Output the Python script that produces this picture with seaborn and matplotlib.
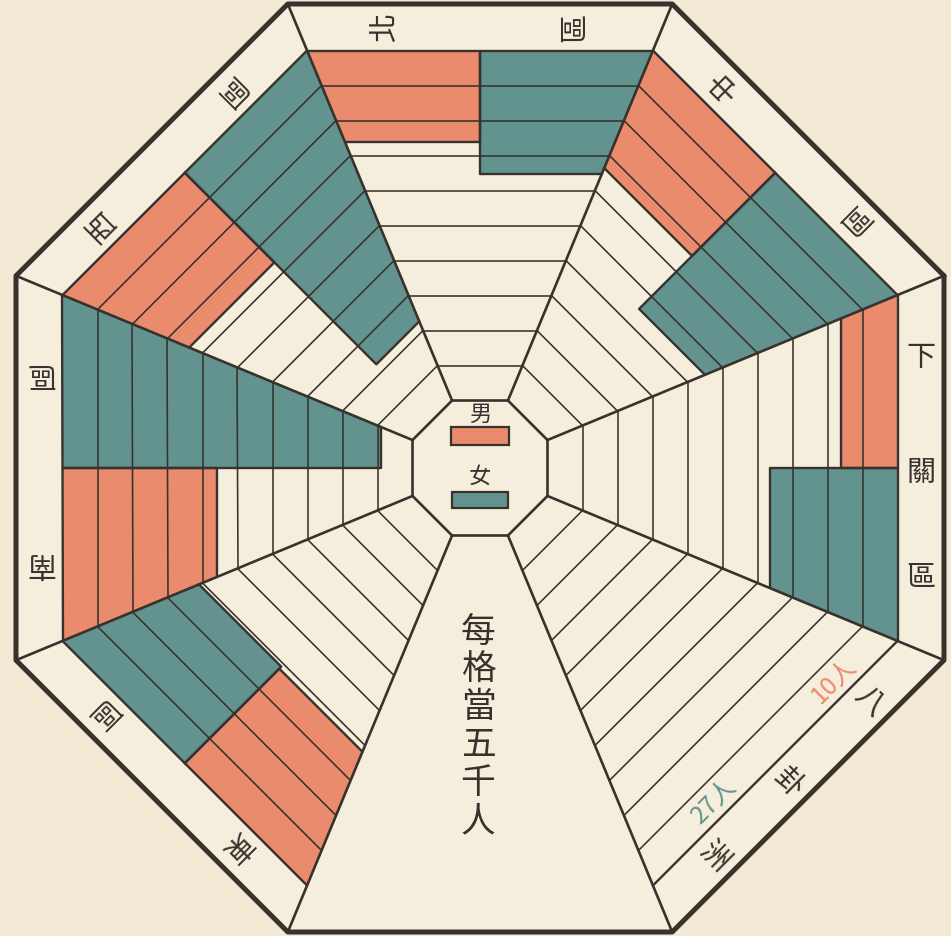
import numpy as np
import matplotlib
matplotlib.use("Agg")
import matplotlib.pyplot as plt
from matplotlib.patches import Rectangle, Polygon
import seaborn as sns

# population by district, male / female (one cell = 5000 people)
regions = ["北區", "中區", "下關區", "八卦洲", "東區", "南區", "西區"]
male_pop = [13000, 16800, 8100, 10, 19100, 22000, 18100]
female_pop = [17700, 27500, 18200, 27, 19500, 45500, 38700]
per_cell = 5000
scale_note = "每格當五千人"
legend_labels = ["男", "女"]

sns.set_theme(style="white", rc={"figure.facecolor": "#f3e9d4",
                                 "axes.facecolor": "#f3e9d4"})
plt.rcParams["font.family"] = ["Noto Sans CJK TC", "DejaVu Sans"]

ORANGE = "#e98b6c"
TEAL = "#62938f"
INK = "#37322d"
PAPER = "#f6eedc"

c22 = np.cos(np.radians(22.5))
r_core, cell, n_cells = 67.5, 35.0, 10
r_band = r_core + cell * n_cells
r_outer = 464.0


def ray(deg, d):
    a = np.radians(deg)
    return np.array([np.cos(a), np.sin(a)]) * d


def corner(theta, side, d):
    # octagon vertex with apothem d on the ccw (+1) or cw (-1) side of a sector
    return ray(theta + 22.5 * side, d / c22)


def line(ax, pts, lw, z=3, color=INK):
    pts = np.array(pts)
    ax.plot(pts[:, 0], pts[:, 1], color=color, lw=lw, solid_capstyle="round", zorder=z)


fig = plt.figure(figsize=(9.51, 9.36), dpi=100)
ax = fig.add_axes([0, 0, 1, 1])
ax.set_xlim(-480, 471)
ax.set_ylim(-468, 468)
ax.axis("off")

# paper inside the octagon
outer = np.array([ray(22.5 + 45 * j, r_outer / c22) for j in range(8)])
ax.add_patch(Polygon(outer, closed=True, facecolor=PAPER, edgecolor="none", zorder=0))

# sectors clockwise from the top, the bottom one holds the note
sector_angles = [90 - 45 * i for i in range(8) if i != 4]

for theta, name, m, f in zip(sector_angles, regions, male_pop, female_pop):
    # bars: male on the ccw half, female on the cw half, from the rim inward
    for pop, side, color in [(m, 1, ORANGE), (f, -1, TEAL)]:
        n = pop / per_cell
        if n < 0.05:
            continue
        d_in = r_band - n * cell
        poly = np.array([ray(theta, r_band), corner(theta, side, r_band),
                         corner(theta, side, d_in), ray(theta, d_in)])
        ax.fill(poly[:, 0], poly[:, 1], color=color, lw=0, zorder=1)
        line(ax, [ray(theta, r_band), ray(theta, d_in), corner(theta, side, d_in)], 1.7, z=4)

    # grid rungs
    for k in range(1, n_cells):
        d = r_core + k * cell
        line(ax, [corner(theta, -1, d), corner(theta, 1, d)], 1.15)
    line(ax, [corner(theta, -1, r_band), corner(theta, 1, r_band)], 1.7, z=4)

    # district name in the rim band
    t = np.array([np.sin(np.radians(theta)), -np.cos(np.radians(theta))])
    d_mid = (r_band + r_outer) / 2
    offs = [-95, 95] if len(name) == 2 else [-110, 5, 110]
    for ch, s in zip(name, offs):
        p = ray(theta, d_mid) + s * t
        ax.text(p[0], p[1], ch, fontsize=21, color=INK, rotation=theta,
                ha="center", va="center", rotation_mode="anchor", zorder=5)

    # tiny populations written out in people
    for pop, s, color in [(m, -100, ORANGE), (f, 70, TEAL)]:
        if pop / per_cell < 0.05:
            p = ray(theta, 401) + s * t
            ax.text(p[0], p[1], f"{pop}人", fontsize=18, color=color,
                    rotation=theta + 90, ha="center", va="center",
                    rotation_mode="anchor", zorder=5)

# radial boundaries and rings
for j in range(8):
    a = 22.5 + 45 * j
    line(ax, [ray(a, r_core / c22), ray(a, r_outer / c22)], 1.9, z=4)
core = np.array([ray(22.5 + 45 * j, r_core / c22) for j in range(9)])
line(ax, core, 1.9, z=4)
line(ax, np.vstack([outer, outer[:1]]), 3.6, z=6)

# legend in the centre
ax.text(0, 54, legend_labels[0], fontsize=16, color=INK, ha="center", va="center", zorder=5)
ax.add_patch(Rectangle((-29, 23), 58, 18, facecolor=ORANGE, edgecolor=INK, lw=1.6, zorder=5))
ax.text(0, -8, legend_labels[1], fontsize=16, color=INK, ha="center", va="center", zorder=5)
ax.add_patch(Rectangle((-28, -40), 56, 16, facecolor=TEAL, edgecolor=INK, lw=1.6, zorder=5))

# scale note in the bottom panel
for i, ch in enumerate(scale_note):
    ax.text(-2, -164 - 38 * i, ch, fontsize=25, color=INK, ha="center", va="center", zorder=5)

fig.savefig("out.png", dpi=100, facecolor=fig.get_facecolor())
